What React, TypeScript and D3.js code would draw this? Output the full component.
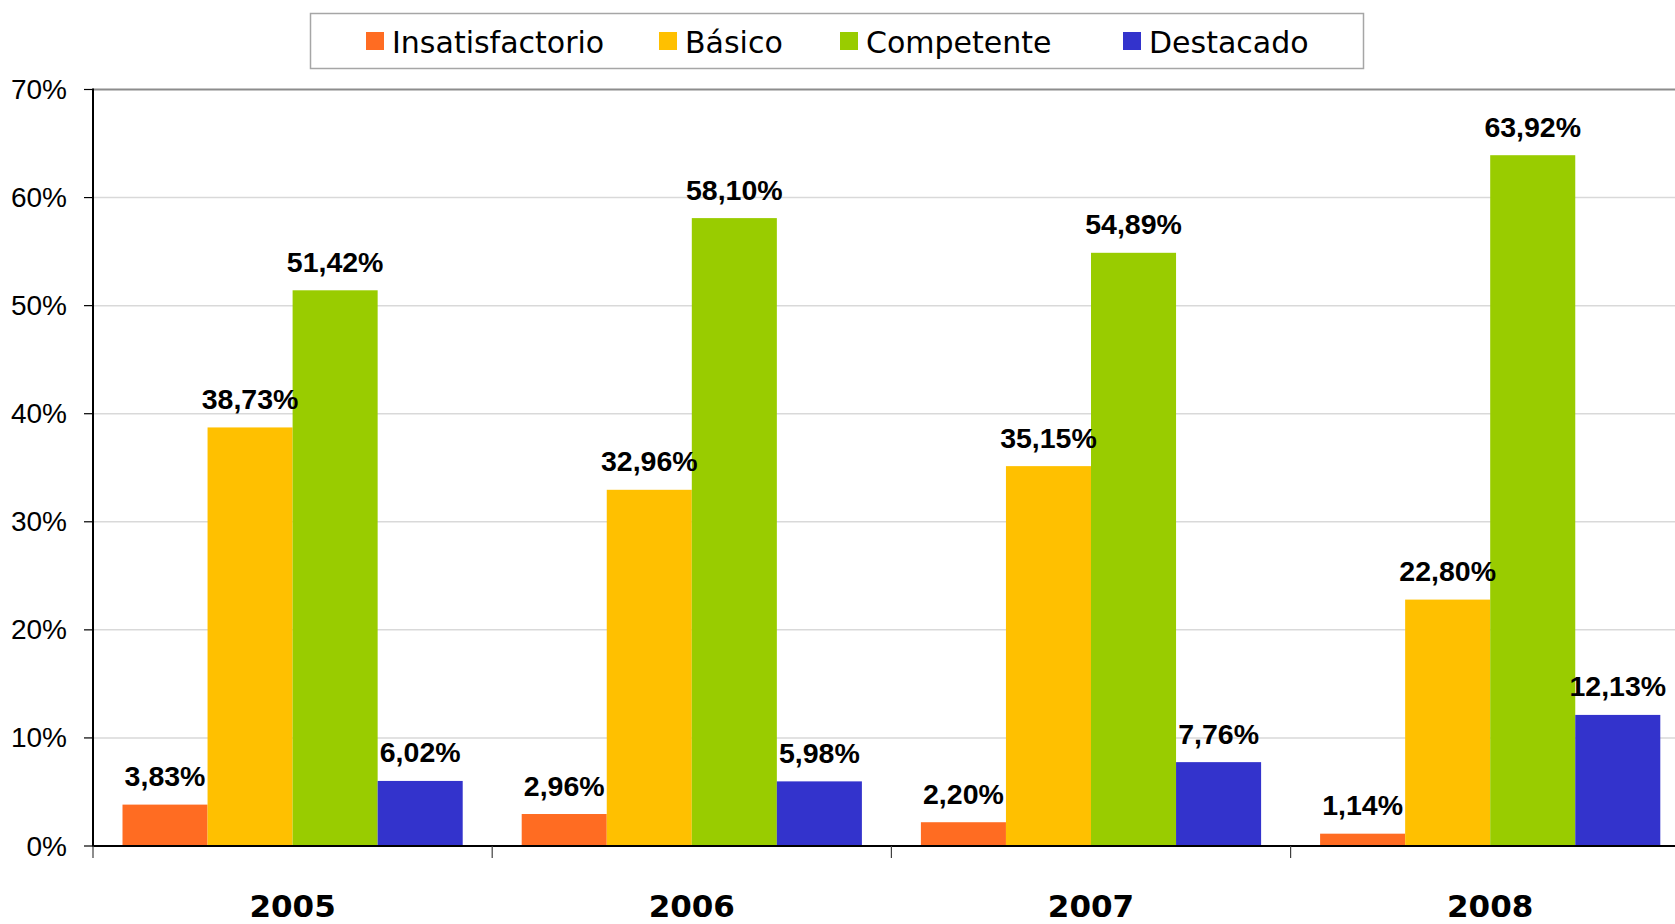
import React from "react";
import * as d3 from "d3";

const categories = ["2005", "2006", "2007", "2008"];
const seriesNames = ["Insatisfactorio", "Básico", "Competente", "Destacado"];
const insatisfactorio = [3.83, 2.96, 2.2, 1.14];
const basico = [38.73, 32.96, 35.15, 22.8];
const competente = [51.42, 58.1, 54.89, 63.92];
const destacado = [6.02, 5.98, 7.76, 12.13];
const yTicks = [0, 10, 20, 30, 40, 50, 60, 70];
const colors = ["#FF6C22", "#FFC000", "#99CC00", "#3333CC"];

const W = 1675;
const H = 924;

export default function App() {
  const series = [insatisfactorio, basico, competente, destacado];
  const left = 93;
  const catW = 399.2;
  const y0 = 846;
  const yTop = 89.5;
  const plotRight = left + catW * categories.length;

  const x0 = d3.scaleBand<string>().domain(categories).range([left, plotRight]).padding(0);
  const groupPad = 29.5;
  const x1 = d3
    .scaleBand<string>()
    .domain(seriesNames)
    .range([groupPad, catW - groupPad])
    .padding(0);
  const y = d3.scaleLinear().domain([0, 70]).range([y0, yTop]);

  const fmt = (v: number) => v.toFixed(2).replace(".", ",") + "%";

  const legendItems = [
    { sq: 366, tx: 392 },
    { sq: 659, tx: 685 },
    { sq: 840, tx: 866 },
    { sq: 1123, tx: 1149 },
  ];

  return (
    <svg
      width={W}
      height={H}
      style={{ position: "absolute", left: 0, top: 0, display: "block", background: "#fff" }}
    >
      {/* gridlines */}
      {yTicks.map((t) =>
        t === 0 ? null : (
          <line
            key={"g" + t}
            x1={left}
            x2={W}
            y1={y(t)}
            y2={y(t)}
            stroke={t === 70 ? "#8c8c8c" : "#d9d9d9"}
            strokeWidth={t === 70 ? 2 : 1.5}
          />
        )
      )}
      {/* y ticks and labels */}
      {yTicks.map((t) => (
        <g key={"yt" + t}>
          <line x1={84} x2={left} y1={y(t)} y2={y(t)} stroke="#000" strokeWidth={1.2} />
          <text
            x={67}
            y={y(t) + 9.5}
            textAnchor="end"
            fontFamily="'Liberation Sans', Arial, sans-serif"
            fontSize={28}
            fill="#000"
          >
            {t}%
          </text>
        </g>
      ))}
      {/* bars */}
      {categories.map((c, ci) => (
        <g key={"c" + c} transform={`translate(${x0(c)},0)`}>
          {series.map((s, si) => (
            <rect
              key={si}
              x={x1(seriesNames[si])}
              y={y(s[ci])}
              width={x1.bandwidth()}
              height={y0 - y(s[ci])}
              fill={colors[si]}
            />
          ))}
        </g>
      ))}
      {/* axes */}
      <line x1={left} x2={left} y1={yTop - 1} y2={y0 + 1} stroke="#000" strokeWidth={2} />
      <line x1={left} x2={W} y1={y0} y2={y0} stroke="#000" strokeWidth={2} />
      {categories.map((c) => (
        <line
          key={"xt" + c}
          x1={x0(c)!}
          x2={x0(c)!}
          y1={y0}
          y2={y0 + 12}
          stroke="#404040"
          strokeWidth={1.2}
        />
      ))}
      {/* data labels */}
      {categories.map((c, ci) =>
        series.map((s, si) => (
          <text
            key={"l" + ci + "-" + si}
            x={x0(c)! + x1(seriesNames[si])! + x1.bandwidth() / 2}
            y={y(s[ci]) - 18.5}
            textAnchor="middle"
            fontFamily="'Liberation Sans', Arial, sans-serif"
            fontWeight="bold"
            fontSize={28.5}
            fill="#000"
          >
            {fmt(s[ci])}
          </text>
        ))
      )}
      {/* category labels */}
      {categories.map((c) => (
        <text
          key={"cl" + c}
          x={x0(c)! + x0.bandwidth() / 2}
          y={917}
          textAnchor="middle"
          fontFamily="'DejaVu Sans', sans-serif"
          fontWeight="bold"
          fontSize={31}
          fill="#000"
        >
          {c}
        </text>
      ))}
      {/* legend */}
      <rect x={310.5} y={13.5} width={1053} height={55} fill="#fff" stroke="#a6a6a6" strokeWidth={1.5} />
      {seriesNames.map((n, i) => (
        <g key={"lg" + n}>
          <rect x={legendItems[i].sq} y={32} width={18} height={18} fill={colors[i]} />
          <text
            x={legendItems[i].tx}
            y={53}
            fontFamily="'DejaVu Sans', sans-serif"
            fontSize={30}
            fill="#000"
          >
            {n}
          </text>
        </g>
      ))}
    </svg>
  );
}
